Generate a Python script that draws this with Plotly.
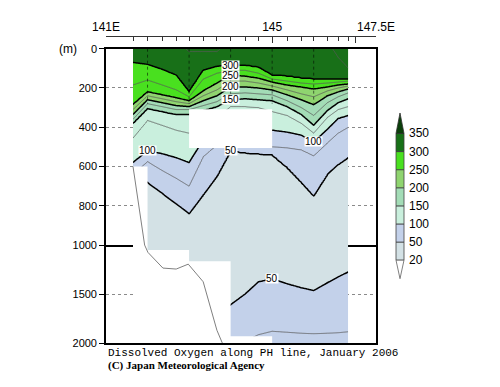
import numpy as np
import plotly.graph_objects as go

# ---------------- data ----------------
STATIONS = [141.65, 142.0, 142.35, 142.69, 143.0, 143.34, 143.67, 144.0, 144.35,
            144.67, 145.0, 145.36, 145.7, 146.0, 146.33, 146.59, 146.83]
# depth (m) of each isoline at each station; negative = isoline absent (above the surface)
D325 = [-40, -40, -40, -40, 15, 15, 15, -40, -40, -40, -40, -40, -40, -40, -40, 45, 100]
D300 = [70, 80, 105, 135, 220, 110, 90, 85, 85, 95, 135, 140, 150, 155, 155, 155, 155]
D275 = [185, 160, 185, 210, 245, 155, 125, 110, 110, 125, 155, 165, 175, 180, 175, 170, 165]
D250 = [285, 220, 235, 250, 265, 215, 175, 135, 140, 150, 170, 185, 195, 205, 195, 185, 180]
D225 = [310, 240, 255, 270, 280, 240, 210, 165, 165, 175, 190, 210, 230, 245, 215, 200, 190]
D200 = [335, 260, 275, 290, 295, 265, 240, 195, 195, 200, 210, 235, 260, 285, 240, 220, 205]
D175 = [360, 280, 295, 310, 310, 290, 270, 230, 225, 230, 235, 265, 300, 340, 275, 245, 225]
D150 = [380, 305, 320, 335, 335, 315, 295, 260, 255, 260, 265, 295, 335, 390, 315, 275, 255]
D125 = [455, 365, 390, 415, 430, 390, 350, 295, 295, 300, 320, 340, 380, 430, 350, 310, 295]
D100 = [580, 520, 535, 555, 580, 465, 430, 390, 390, 400, 415, 425, 440, 475, 410, 355, 340]
D75 = [640, 575, 620, 660, 700, 550, 490, 465, 475, 485, 500, 505, 515, 545, 480, 430, 400]
D50 = [715, 680, 735, 790, 840, 745, 650, 520, 530, 535, 540, 605, 680, 750, 640, 590, 555]
OMZ_DEPTH, OMZ_DO = 1100, 35
D50_DEEP = [1700] * 7 + [1610, 1500, 1375, 1345, 1395, 1435, 1465, 1385, 1325, 1275]
D75_DEEP = [2100] * 7 + [2050, 1980, 1915, 1880, 1890, 1900, 1905, 1900, 1895, 1885]
TOP_DEPTH, TOP_DO = -100, 340
DEEP_DEPTH, DEEP_DO = 2200, 85

DATA_BOTTOM = [600, 1050, 1050, 1050, 1165, 1165, 1165, 1930, 1930, 1930,
               2000, 2000, 2000, 2000, 2000, 2000, 2000]
GAP_LON = [143.0, 145.0]
GAP_DEPTH = [308, 506]

BATHY_LON = [141.65, 141.93, 142.01, 142.37, 142.69, 142.98, 143.34, 143.67, 143.80]
BATHY_DEPTH = [600, 1000, 1075, 1235, 1245, 1195, 1375, 1870, 2000]

LEVELS = [20, 50, 100, 150, 200, 250, 300, 350]
BAND_COLORS = ['#d3e1e5', '#c3d1ea', '#c9efdd', '#a3dcb6', '#8fd46f', '#49e01f', '#187018']
UNDER_COLOR, OVER_COLOR = '#ffffff', '#0b3f0b'

TOP_TICKS = [141, 142, 143, 144, 145, 146, 147, 147.5]
TOP_TEXT = ['141E', '', '', '', '145', '', '', '147.5E']
GRID_LON = [142, 143, 144, 145, 146]
UPPER_TICKS = [0, 200, 400, 600, 800, 1000]
LOWER_TICKS = [1500, 2000]

# contour label positions: (station index, level, panel)
CLABELS = [(7, 300, 'u'), (7, 250, 'u'), (7, 200, 'u'), (7, 150, 'u'),
           (1, 100, 'u'), (7, 50, 'u'), (13, 100, 'u'), (10, 50, 'l')]

# ---------------- build the field (isoline depths -> grid) ----------------
LEVEL_DEPTHS = {325: D325, 300: D300, 275: D275, 250: D250, 225: D225, 200: D200, 175: D175,
                150: D150, 125: D125, 100: D100, 75: D75, 50: D50}
n = len(STATIONS)
xs = np.concatenate([np.linspace(STATIONS[i], STATIONS[i + 1], 10, endpoint=False)
                     for i in range(n - 1)] + [np.array([STATIONS[-1]])])
depth = np.arange(0, 2001, 5.0)
knots = [(TOP_DEPTH, TOP_DO)]
knots += [(LEVEL_DEPTHS[lev], lev) for lev in [325, 300, 275, 250, 225, 200, 175, 150, 125, 100, 75, 50]]
knots += [(OMZ_DEPTH, OMZ_DO), (D50_DEEP, 50), (D75_DEEP, 75), (DEEP_DEPTH, DEEP_DO)]
Z = np.zeros((len(depth), len(xs)))
for j, lo in enumerate(xs):
    kd, kv = [], []
    for d, v in knots:
        kd.append(float(np.interp(lo, STATIONS, d)) if isinstance(d, list) else float(d))
        kv.append(v)
    Z[:, j] = np.interp(depth, kd, kv)

# ---------------- figure ----------------
# page body has an 8px margin: figure is shrunk by 8px so it sits on the 500x387 window
W, H = 492, 379
ML, MR, MT, MB = 98, 124, 20, 44
PW, PH = W - ML - MR, H - MT - MB
def pxx(px): return (px - 106) / PW   # reference-window pixel -> paper
def pxy(py): return (343 - py) / PH

Y_SPLIT = pxy(242.5)
Y_TOP = pxy(41)

fig = go.Figure()
cscale = [[k / 6, BAND_COLORS[k]] for k in range(7)]

for xa, ya in [('x', 'y'), ('x2', 'y2')]:
    fig.add_trace(go.Contour(x=xs, y=depth, z=Z, xaxis=xa, yaxis=ya,
                             contours=dict(start=50, end=300, size=50, coloring='fill', showlines=False),
                             colorscale=cscale, showscale=False, line=dict(width=0, smoothing=0.5),
                             hoverinfo='skip'))
    fig.add_trace(go.Contour(x=xs, y=depth, z=Z, xaxis=xa, yaxis=ya,
                             contours=dict(start=75, end=325, size=50, coloring='none'),
                             line=dict(color='#5a5a5a', width=0.8, smoothing=0.5), showscale=False,
                             hoverinfo='skip'))
    fig.add_trace(go.Contour(x=xs, y=depth, z=Z, xaxis=xa, yaxis=ya,
                             contours=dict(start=50, end=300, size=50, coloring='none'),
                             line=dict(color='black', width=1.5, smoothing=0.5), showscale=False,
                             hoverinfo='skip'))
    mx, my = [], []
    for i in range(n - 1):
        mx += [STATIONS[i], STATIONS[i + 1]]
        my += [DATA_BOTTOM[i], DATA_BOTTOM[i]]
    mx += [STATIONS[-1], STATIONS[-1], STATIONS[0], STATIONS[0]]
    my += [DATA_BOTTOM[-1], 2400, 2400, DATA_BOTTOM[0]]
    fig.add_trace(go.Scatter(x=mx, y=my, xaxis=xa, yaxis=ya, fill='toself', fillcolor='white',
                             mode='lines', line=dict(width=0), hoverinfo='skip'))

fig.add_trace(go.Scatter(x=[GAP_LON[0], GAP_LON[1], GAP_LON[1], GAP_LON[0], GAP_LON[0]],
                         y=[GAP_DEPTH[0], GAP_DEPTH[0], GAP_DEPTH[1], GAP_DEPTH[1], GAP_DEPTH[0]],
                         xaxis='x', yaxis='y', fill='toself', fillcolor='white', mode='lines',
                         line=dict(width=0), hoverinfo='skip'))

bu = [(lo, d) for lo, d in zip(BATHY_LON, BATHY_DEPTH) if d <= 1000]
bl = [(lo, d) for lo, d in zip(BATHY_LON, BATHY_DEPTH) if d >= 1000]
fig.add_trace(go.Scatter(x=[p[0] for p in bu], y=[p[1] for p in bu], xaxis='x', yaxis='y',
                         mode='lines', line=dict(color='#808080', width=1), hoverinfo='skip'))
fig.add_trace(go.Scatter(x=[p[0] for p in bl], y=[p[1] for p in bl], xaxis='x2', yaxis='y2',
                         mode='lines', line=dict(color='#808080', width=1), hoverinfo='skip'))
fig.add_trace(go.Scatter(x=[STATIONS[0]], y=[0], xaxis='x3', yaxis='y', mode='markers',
                         marker=dict(opacity=0), hoverinfo='skip'))

tickfont = dict(family='Liberation Sans', size=11, color='black')
common_x = dict(range=[141, 147.5], showline=True, linecolor='black',
                ticks='', showticklabels=False, tickvals=GRID_LON, showgrid=True,
                griddash='dot', gridcolor='#8a8a8a', gridwidth=1, zeroline=False)
common_y = dict(showline=True, linecolor='black', linewidth=1.6, mirror=True, ticks='outside',
                ticklen=5, tickcolor='black', tickwidth=1, tickfont=tickfont, showgrid=True,
                griddash='dot', gridcolor='#8a8a8a', gridwidth=1, zeroline=False)

fig.update_layout(
    width=W, height=H, margin=dict(l=ML, r=MR, t=MT, b=MB, pad=0),
    plot_bgcolor='white', paper_bgcolor='white', showlegend=False,
    font=dict(family='Liberation Sans', size=11, color='black'),
    xaxis=dict(domain=[0, 1], anchor='y', mirror=True, linewidth=2, **common_x),
    xaxis2=dict(domain=[0, 1], anchor='y2', matches='x', mirror=False, linewidth=1.6, **common_x),
    yaxis=dict(domain=[Y_SPLIT, Y_TOP], anchor='x', range=[1000, 0], tickvals=UPPER_TICKS, **common_y),
    yaxis2=dict(domain=[0, Y_SPLIT], anchor='x2', range=[2000, 1000], tickvals=LOWER_TICKS, **common_y),
    xaxis3=dict(overlaying='x', anchor='free', position=1, side='top', range=[141, 147.5],
                tickmode='array', tickvals=TOP_TICKS, ticktext=TOP_TEXT, ticks='inside', ticklen=6,
                tickcolor='#333333', showline=True, linecolor='#333333', linewidth=1,
                showgrid=False, zeroline=False,
                tickfont=dict(family='Liberation Sans', size=12, color='black'),
                minor=dict(tickmode='array', tickvals=STATIONS, ticks='inside', ticklen=4,
                           tickcolor='#333333', showgrid=False)),
)

shapes = []
for lo in GRID_LON:
    shapes.append(dict(type='line', xref='x', yref='y', x0=lo, x1=lo, y0=0, y1=280, layer='above',
                       line=dict(color='rgba(0,0,0,0.55)', width=1, dash='dot')))

cbx0, cbx1 = pxx(396), pxx(404)
cbm = (cbx0 + cbx1) / 2
lev_y = [pxy(258 - k * 18.57) for k in range(len(LEVELS))]
for k in range(len(BAND_COLORS)):
    shapes.append(dict(type='rect', xref='paper', yref='paper', x0=cbx0, x1=cbx1,
                       y0=lev_y[k], y1=lev_y[k + 1], fillcolor=BAND_COLORS[k],
                       line=dict(color='#404040', width=0.8), layer='above'))
shapes.append(dict(type='path', xref='paper', yref='paper', layer='above',
                   path=f'M {cbx0},{lev_y[-1]} L {cbx1},{lev_y[-1]} L {cbm},{pxy(107)} Z',
                   fillcolor=OVER_COLOR, line=dict(color='#303030', width=0.8)))
shapes.append(dict(type='path', xref='paper', yref='paper', layer='above',
                   path=f'M {cbx0},{lev_y[0]} L {cbx1},{lev_y[0]} L {cbm},{pxy(277)} Z',
                   fillcolor=UNDER_COLOR, line=dict(color='#606060', width=0.8)))
fig.update_layout(shapes=shapes)

ann = []
for k, lev in enumerate(LEVELS):
    ann.append(dict(x=pxx(407), y=lev_y[k], xref='paper', yref='paper', text=str(lev),
                    showarrow=False, xanchor='left', yanchor='middle',
                    font=dict(family='Liberation Sans', size=12, color='black')))
for idx, lev, panel in CLABELS:
    if panel == 'u':
        yv = LEVEL_DEPTHS[lev][idx]; yr = 'y'
    else:
        yv = D50_DEEP[idx] if lev == 50 else D75_DEEP[idx]; yr = 'y2'
    ann.append(dict(x=STATIONS[idx], y=yv, xref='x', yref=yr, text=str(lev), showarrow=False,
                    bgcolor='white', borderpad=0, height=9,
                    font=dict(family='Liberation Sans', size=10, color='black')))
ann.append(dict(x=pxx(57), y=pxy(41), xref='paper', yref='paper', text='(m)', showarrow=False,
                xanchor='left', yanchor='middle',
                font=dict(family='Liberation Sans', size=12, color='black')))
ann.append(dict(x=pxx(106), y=pxy(353), xref='paper', yref='paper',
                text='Dissolved Oxygen along PH line, January 2006', showarrow=False,
                xanchor='left', yanchor='middle',
                font=dict(family='Liberation Mono', size=11, color='black')))
ann.append(dict(x=pxx(106), y=pxy(366), xref='paper', yref='paper',
                text='<b>(C) Japan Meteorological Agency</b>', showarrow=False,
                xanchor='left', yanchor='middle',
                font=dict(family='Liberation Serif', size=11, color='black')))
fig.update_layout(annotations=ann)

fig.write_html('out.html')
